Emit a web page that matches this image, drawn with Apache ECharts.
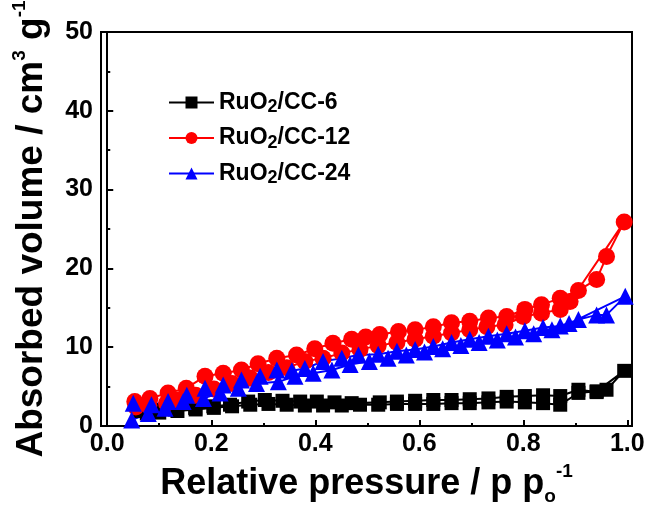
<!DOCTYPE html>
<html>
<head>
<meta charset="utf-8">
<script src="https://cdn.jsdelivr.net/npm/echarts@6/dist/echarts.min.js"></script>
<style>
html, body { margin: 0; padding: 0; background: #fff; }
#main { width: 646px; height: 510px; }
</style>
</head>
<body>
<div id="main"></div>
<script>
// relative pressure (x) and absorbed volume (y), adsorption branch then desorption branch
var p6up  = [0.060, 0.095, 0.130, 0.169, 0.204, 0.236, 0.271, 0.303, 0.337, 0.371, 0.403, 0.437, 0.470, 0.524, 0.557, 0.592, 0.627, 0.662, 0.697, 0.733, 0.768, 0.803, 0.838, 0.871, 0.906, 0.941, 0.960, 0.994];
var v6up  = [1.9, 2.0, 2.1, 2.3, 2.5, 2.7, 3.1, 3.3, 3.2, 3.1, 3.1, 3.0, 2.9, 3.0, 3.1, 3.2, 3.3, 3.3, 3.4, 3.5, 3.7, 3.8, 3.9, 3.8, 4.6, 4.3, 4.6, 7.0];
var p6lo  = [0.941, 0.906, 0.871, 0.838, 0.803, 0.768, 0.733, 0.697, 0.662, 0.627, 0.592, 0.557, 0.521, 0.486, 0.451, 0.415, 0.380, 0.345, 0.310, 0.275, 0.240, 0.205, 0.170, 0.135, 0.100, 0.076];
var v6lo  = [4.4, 4.2, 2.7, 2.9, 3.0, 3.1, 3.0, 2.9, 2.9, 2.8, 2.8, 2.8, 2.7, 2.7, 2.6, 2.6, 2.6, 2.7, 2.8, 2.7, 2.5, 2.3, 2.1, 1.9, 1.7, 1.6];

var p12up = [0.053, 0.082, 0.117, 0.152, 0.188, 0.223, 0.258, 0.290, 0.326, 0.364, 0.399, 0.434, 0.470, 0.497, 0.524, 0.560, 0.592, 0.627, 0.662, 0.697, 0.733, 0.768, 0.803, 0.835, 0.871, 0.906, 0.941, 0.960, 0.994];
var v12up = [3.1, 3.5, 4.2, 4.8, 6.3, 6.7, 7.1, 7.9, 8.6, 9.0, 9.8, 10.5, 11.0, 11.3, 11.6, 12.0, 12.2, 12.6, 13.1, 13.3, 13.7, 13.9, 14.8, 15.4, 16.2, 17.2, 18.6, 21.5, 25.9];
var p12lo = [0.890, 0.871, 0.835, 0.800, 0.765, 0.730, 0.697, 0.662, 0.627, 0.592, 0.557, 0.521, 0.486, 0.451, 0.415, 0.380, 0.345, 0.310, 0.275, 0.240, 0.205, 0.170, 0.135, 0.114, 0.080, 0.055];
var v12lo = [15.8, 14.8, 14.3, 13.9, 12.85, 12.6, 12.2, 11.8, 11.4, 11.0, 10.6, 10.2, 9.7, 9.25, 8.6, 8.2, 7.4, 6.8, 6.1, 5.4, 4.7, 3.9, 3.3, 2.9, 2.6, 2.4];

var p24up = [0.050, 0.085, 0.117, 0.153, 0.188, 0.223, 0.258, 0.294, 0.326, 0.355, 0.380, 0.415, 0.451, 0.483, 0.521, 0.557, 0.592, 0.627, 0.662, 0.697, 0.733, 0.768, 0.803, 0.838, 0.871, 0.906, 0.941, 0.960, 0.996];
var v24up = [2.9, 2.7, 3.1, 3.9, 4.8, 5.2, 5.85, 6.3, 7.1, 7.0, 7.3, 8.2, 8.6, 9.0, 9.1, 9.5, 9.7, 10.1, 10.6, 11.0, 11.4, 11.7, 12.1, 12.5, 12.7, 13.5, 14.1, 14.1, 16.45];
var p24lo = [0.888, 0.855, 0.820, 0.785, 0.750, 0.715, 0.680, 0.645, 0.610, 0.575, 0.540, 0.504, 0.467, 0.432, 0.396, 0.361, 0.329, 0.287, 0.252, 0.217, 0.185, 0.146, 0.111, 0.079, 0.047];
var v24lo = [13.0, 12.2, 11.7, 11.3, 10.9, 10.6, 10.2, 9.8, 9.4, 9.0, 8.6, 8.2, 7.8, 7.1, 6.7, 6.3, 5.6, 5.4, 4.8, 4.2, 3.5, 3.1, 2.25, 1.6, 0.76];

var names = ['RuO2/CC-6', 'RuO2/CC-12', 'RuO2/CC-24'];
var xMajor = [0, 0.2, 0.4, 0.6, 0.8, 1.0];
var xMinor = [0.1, 0.3, 0.5, 0.7, 0.9];

function pairs(ps, vs) {
    var out = [];
    for (var i = 0; i < ps.length; i++) out.push([ps[i], vs[i]]);
    return out;
}

var FONT = "'Liberation Sans', Arial, sans-serif";
var myChart = echarts.init(document.getElementById('main'));

function loop(name, color, symbol, size, up, lo) {
    return {
        name: name,
        type: 'line',
        symbol: symbol,
        symbolSize: size,
        color: color,
        lineStyle: { width: 2, color: color },
        itemStyle: { color: color },
        data: up.concat(lo),
        animation: false
    };
}

var option = {
    backgroundColor: '#fff',
    grid: {
        left: 101, right: 14, top: 32, bottom: 84,
        outerBoundsMode: 'none',
        show: true, borderColor: '#000', borderWidth: 2
    },
    legend: {
        left: 163,
        top: 86,
        orient: 'vertical',
        itemWidth: 45,
        itemHeight: 15,
        itemGap: 10,
        data: names,
        formatter: function (n) {
            var parts = n.split('2');
            return '{a|' + parts[0] + '}{s|2}{a|' + parts.slice(1).join('2') + '}';
        },
        textStyle: {
            rich: {
                a: { fontFamily: FONT, fontWeight: 'bold', fontSize: 23, color: '#000', lineHeight: 28 },
                s: { fontFamily: FONT, fontWeight: 'bold', fontSize: 18, color: '#000', lineHeight: 16, verticalAlign: 'bottom' }
            }
        }
    },
    xAxis: [
        {
            type: 'value',
            position: 'bottom',
            min: -0.012,
            max: 1.009,
            axisLine: { show: true, lineStyle: { color: '#000', width: 2 } },
            axisTick: { show: true, inside: true, length: 6, customValues: xMajor, lineStyle: { color: '#000', width: 2 } },
            axisLabel: {
                customValues: xMajor,
                formatter: function (v) { return v.toFixed(1); },
                fontFamily: FONT, fontWeight: 'bold', fontSize: 25, color: '#000', margin: 6
            },
            splitLine: { show: false },
            name: '{a|Relative pressure / p p}{s|o}{p|-1}',
            nameLocation: 'middle',
            nameGap: 33,
            nameTextStyle: {
                rich: {
                    a: { fontFamily: FONT, fontWeight: 'bold', fontSize: 36, color: '#000', lineHeight: 44 },
                    s: { fontFamily: FONT, fontWeight: 'bold', fontSize: 19, color: '#000', lineHeight: 18, verticalAlign: 'bottom' },
                    p: { fontFamily: FONT, fontWeight: 'bold', fontSize: 19, color: '#000', lineHeight: 18, verticalAlign: 'top' }
                }
            }
        },
        {
            type: 'value',
            position: 'bottom',
            min: -0.012,
            max: 1.009,
            axisLine: { show: false },
            axisTick: { show: true, inside: true, length: 3, customValues: xMinor, lineStyle: { color: '#000', width: 2 } },
            axisLabel: { show: false },
            splitLine: { show: false }
        }
    ],
    yAxis: {
        type: 'value',
        min: 0,
        max: 50,
        interval: 10,
        axisLine: { show: true, lineStyle: { color: '#000', width: 2 } },
        axisTick: { show: true, inside: true, length: 6, lineStyle: { color: '#000', width: 2 } },
        minorTick: { show: true, splitNumber: 2, length: 3, lineStyle: { color: '#000', width: 2 } },
        axisLabel: { fontFamily: FONT, fontWeight: 'bold', fontSize: 25, color: '#000', margin: 8 },
        splitLine: { show: false },
        name: '{a|Absorbed volume / cm}{p|3}{a| g}{p|-1}',
        nameLocation: 'middle',
        nameGap: 47,
        nameTextStyle: {
            rich: {
                a: { fontFamily: FONT, fontWeight: 'bold', fontSize: 37, color: '#000', lineHeight: 44 },
                p: { fontFamily: FONT, fontWeight: 'bold', fontSize: 19, color: '#000', lineHeight: 18, verticalAlign: 'top' }
            }
        }
    },
    series: [
        loop(names[0], '#000000', 'rect', 14, pairs(p6up, v6up), pairs(p6lo, v6lo)),
        loop(names[1], '#ff0000', 'circle', 17, pairs(p12up, v12up), pairs(p12lo, v12lo)),
        loop(names[2], '#0000ff', 'triangle', 17, pairs(p24up, v24up), pairs(p24lo, v24lo))
    ]
};
myChart.setOption(option);
</script>
</body>
</html>
